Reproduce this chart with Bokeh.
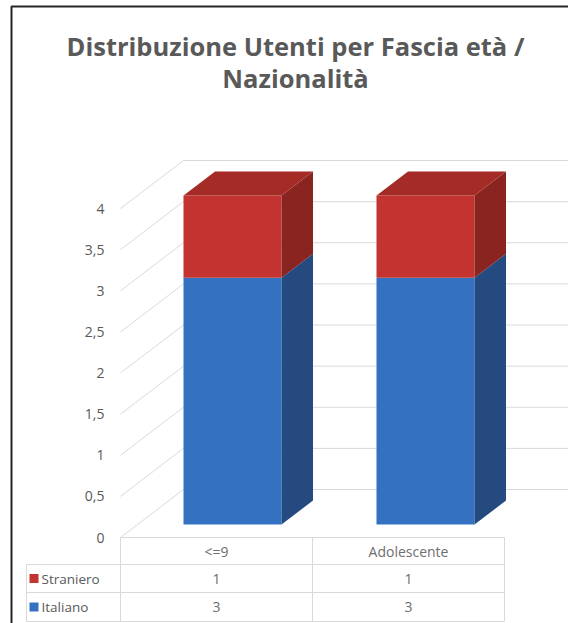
from bokeh.plotting import figure
from bokeh.models import ColumnDataSource, Range1d
from bokeh.core.properties import value
from bokeh.embed import file_html
from bokeh.resources import INLINE

# ---------------- data ----------------
categories = ["<=9", "Adolescente"]
series = ["Italiano", "Straniero"]
italiano = [3, 3]
straniero = [1, 1]
y_ticks = [0, 0.5, 1, 1.5, 2, 2.5, 3, 3.5, 4]
y_tick_labels = ["0", "0,5", "1", "1,5", "2", "2,5", "3", "3,5", "4"]
title_lines = ["Distribuzione Utenti per Fascia età /", "Nazionalità"]

# ---------------- style / layout ----------------
W, H = 568, 623
FONT = "Open Sans"
TXT = "#595959"
CELL_TXT = "#6E6E6E"
GRID = "#D9D9D9"
BLUE_FRONT, BLUE_SIDE = "#3571C1", "#244A80"
RED_FRONT, RED_SIDE, RED_TOP = "#C33430", "#8A2421", "#A52B27"
FRONT = {"Italiano": BLUE_FRONT, "Straniero": RED_FRONT}
SIDE = {"Italiano": BLUE_SIDE, "Straniero": RED_SIDE}

X0_PX, SLOT_PX = 232.0, 193.0      # category 0 centre, category spacing
Y0_PX, UNIT_PX = 524.0, 82.25      # value 0 on the bar plane, pixels per unit


def PX(px):
    return (px - X0_PX) / SLOT_PX


def PY(py):
    return (Y0_PX - py) / UNIT_PX


# 3D depth projection (floor depth 63 x 48 px, bar between 13/48 and 37/48)
DDX, DDY = 63.0 / SLOT_PX, 48.0 / UNIT_PX
D_BAR = 13.0 / 48.0
BAR_DEPTH = 0.5
HW = 49.0 / SLOT_PX  # half bar width

p = figure(width=W, height=H, output_backend="svg", toolbar_location=None,
           x_range=Range1d(PX(0), PX(W)), y_range=Range1d(PY(H), PY(0)),
           min_border=0, x_axis_location=None, y_axis_location=None)
p.grid.visible = False
p.outline_line_color = None
p.background_fill_color = "white"
p.border_fill_color = "white"

# ---------------- gridlines (front floor diagonal + back wall) ----------------
floor_left = PX(120)
gx, gy = [], []
for v in y_ticks:
    gx.append([floor_left, floor_left + DDX, PX(W + 20)])
    gy.append([v - D_BAR * DDY, v + (1 - D_BAR) * DDY, v + (1 - D_BAR) * DDY])
p.multi_line(gx, gy, line_color=GRID, line_width=1)

# y tick labels on the front plane
p.text(x=[PX(104)] * len(y_ticks), y=[v - D_BAR * DDY for v in y_ticks],
       text=y_tick_labels, text_align="right", text_baseline="middle",
       text_font=value(FONT), text_font_size="14px", text_color=TXT)

# ---------------- bars ----------------
xs = list(range(len(categories)))
src = ColumnDataSource(dict(x=xs, Italiano=italiano, Straniero=straniero))
p.vbar_stack(series, x="x", width=2 * HW, source=src,
             color=[FRONT[s] for s in series], line_color=None)

side_xs, side_ys, side_cols = [], [], []
top_xs, top_ys = [], []
for i in xs:
    bottom = 0
    vals = {"Italiano": italiano[i], "Straniero": straniero[i]}
    for s in series:
        top = bottom + vals[s]
        xr = i + HW
        dx, dy = BAR_DEPTH * DDX, BAR_DEPTH * DDY
        side_xs.append([xr, xr + dx, xr + dx, xr])
        side_ys.append([bottom, bottom + dy, top + dy, top])
        side_cols.append(SIDE[s])
        bottom = top
    xl = i - HW
    dx, dy = BAR_DEPTH * DDX, BAR_DEPTH * DDY
    top_xs.append([xl, xl + dx, xl + 2 * HW + dx, xl + 2 * HW])
    top_ys.append([bottom, bottom + dy, bottom + dy, bottom])
p.patches(side_xs, side_ys, fill_color=side_cols, line_color=None)
p.patches(top_xs, top_ys, fill_color=RED_TOP, line_color=None)

# ---------------- data table ----------------
t_left, t_key, t_c1, t_right = 26, 120, 312, 504
r0, r1, r2, r3 = 537, 564, 592, 621
hx = [[PX(t_key), PX(t_right)], [PX(t_left), PX(t_right)],
      [PX(t_left), PX(t_right)], [PX(t_left), PX(t_right)]]
hy = [[PY(r0)] * 2, [PY(r1)] * 2, [PY(r2)] * 2, [PY(r3)] * 2]
vx = [[PX(t_left)] * 2, [PX(t_key)] * 2, [PX(t_c1)] * 2, [PX(t_right)] * 2]
vy = [[PY(r1), PY(r3)], [PY(r0), PY(r3)], [PY(r0), PY(r3)], [PY(r0), PY(r3)]]
p.multi_line(hx + vx, hy + vy, line_color=GRID, line_width=1)

col_centres = [PX((t_key + t_c1) / 2), PX((t_c1 + t_right) / 2)]
p.text(x=col_centres, y=[PY((r0 + r1) / 2)] * 2, text=categories,
       text_align="center", text_baseline="middle", text_font=value(FONT),
       text_font_size="14px", text_color=CELL_TXT)
p.text(x=col_centres, y=[PY((r1 + r2) / 2)] * 2, text=[str(v) for v in straniero],
       text_align="center", text_baseline="middle", text_font=value(FONT),
       text_font_size="14px", text_color=CELL_TXT)
p.text(x=col_centres, y=[PY((r2 + r3) / 2)] * 2, text=[str(v) for v in italiano],
       text_align="center", text_baseline="middle", text_font=value(FONT),
       text_font_size="14px", text_color=CELL_TXT)

# legend keys in the table
p.scatter(x=[PX(33.5)] * 2, y=[PY((r1 + r2) / 2), PY((r2 + r3) / 2)], marker="square",
          size=9, fill_color=[RED_FRONT, BLUE_FRONT], line_color=None)
p.text(x=[PX(41)] * 2, y=[PY((r1 + r2) / 2), PY((r2 + r3) / 2)],
       text=["Straniero", "Italiano"], text_align="left", text_baseline="middle",
       text_font=value(FONT), text_font_size="13.5px", text_color=TXT)

# ---------------- title ----------------
p.text(x=[PX(295)] * 2, y=[PY(45), PY(77)], text=title_lines,
       text_align="center", text_baseline="middle", text_font=value(FONT),
       text_font_size="25.5px", text_font_style="bold", text_color=TXT)

# ---------------- outer chart border (cropped: left + top visible) ----------------
p.line(x=[PX(11), PX(11), PX(W + 10)], y=[PY(H + 10), PY(6), PY(6)],
       line_color="#262626", line_width=2)

open("out.html", "w").write(file_html(p, INLINE))
